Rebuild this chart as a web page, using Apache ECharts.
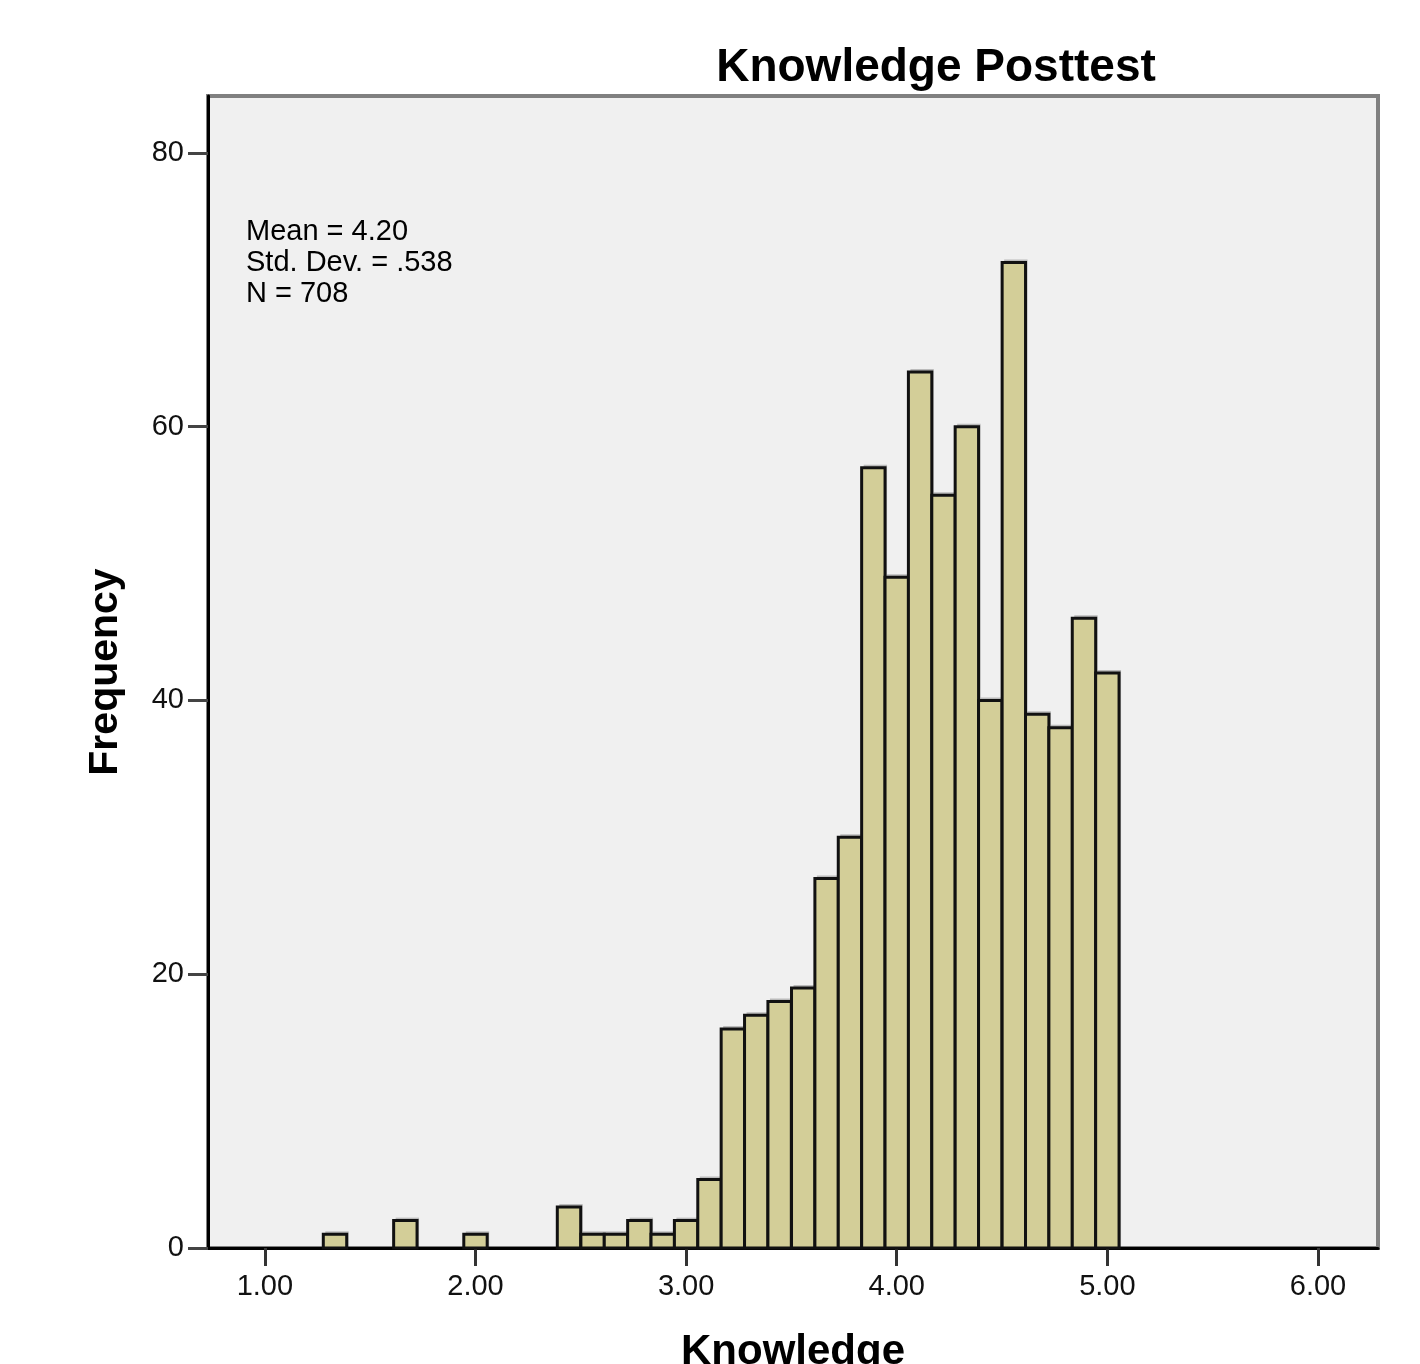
<!DOCTYPE html>
<html>
<head>
<meta charset="utf-8">
<script src="https://cdn.jsdelivr.net/npm/echarts@6/dist/echarts.min.js"></script>
<style>
html,body{margin:0;padding:0;background:#fff;overflow:hidden;}
#chart{width:1420px;height:1364px;}
</style>
</head>
<body>
<div id="chart"></div>
<script>
// Histogram bins (centers) and frequencies
const binCenters = [1.333, 1.667, 2.000, 2.444, 2.556, 2.667, 2.778, 2.889, 3.000, 3.111,
                    3.222, 3.333, 3.444, 3.556, 3.667, 3.778, 3.889, 4.000, 4.111, 4.222,
                    4.333, 4.444, 4.556, 4.667, 4.778, 4.889, 5.000];
const frequencies = [1, 2, 1, 3, 1, 1, 2, 1, 2, 5,
                     16, 17, 18, 19, 27, 30, 57, 49, 64, 55,
                     60, 40, 72, 39, 38, 46, 42];
const binWidth = 0.1111;
const xTickValues = [1, 2, 3, 4, 5, 6];
const yTickValues = [0, 20, 40, 60, 80];
const titleText = 'Knowledge Posttest';
const xName = 'Knowledge';
const yName = 'Frequency';
const statsLines = ['Mean = 4.20', 'Std. Dev. = .538', 'N = 708'];

const data = binCenters.map((c, i) => [c, frequencies[i]]);

const chart = echarts.init(document.getElementById('chart'), null, {renderer: 'canvas'});
const FONT = '"Liberation Sans", Arial, sans-serif';

chart.setOption({
  animation: false,
  backgroundColor: '#ffffff',
  title: {
    text: titleText,
    left: 931, top: 40,
    textAlign: 'center',
    textStyle: {fontFamily: FONT, fontWeight: 'bold', fontSize: 46, color: '#000'}
  },
  grid: {
    left: 208, right: 42, top: 96, bottom: 116,
    outerBoundsMode: 'none',
    containLabel: false,
    show: true,
    backgroundColor: '#f0f0f0',
    borderColor: '#808080',
    borderWidth: 4
  },
  xAxis: {
    type: 'value',
    min: 0.73, max: 6.285,
    name: xName,
    nameLocation: 'middle',
    nameGap: 83,
    nameTextStyle: {fontFamily: FONT, fontWeight: 'bold', fontSize: 42, color: '#000'},
    splitLine: {show: false},
    axisLine: {show: true, onZero: false, lineStyle: {color: '#000', width: 3}},
    axisTick: {show: true, customValues: xTickValues, length: 18, lineStyle: {color: '#333', width: 3}},
    axisLabel: {
      customValues: xTickValues,
      margin: 24,
      fontFamily: FONT, fontSize: 29, color: '#111',
      formatter: v => v.toFixed(2)
    }
  },
  yAxis: {
    type: 'value',
    min: 0, max: 84.16,
    name: yName,
    nameLocation: 'middle',
    nameGap: 82,
    nameTextStyle: {fontFamily: FONT, fontWeight: 'bold', fontSize: 41, color: '#000'},
    splitLine: {show: false},
    axisLine: {show: true, onZero: false, lineStyle: {color: '#000', width: 3}},
    axisTick: {show: true, customValues: yTickValues, length: 20, lineStyle: {color: '#444', width: 3}},
    axisLabel: {
      customValues: yTickValues,
      margin: 24,
      fontFamily: FONT, fontSize: 29, color: '#111'
    }
  },
  graphic: [{
    type: 'text',
    left: 246, top: 216,
    style: {
      text: statsLines.join('\n'),
      fontFamily: FONT, fontSize: 29, lineHeight: 31, fill: '#000'
    }
  }],
  series: [{
    type: 'custom',
    data: data,
    encode: {x: 0, y: 1},
    renderItem: function (params, api) {
      const c = api.value(0), f = api.value(1);
      const p1 = api.coord([c - binWidth / 2, f]);
      const p2 = api.coord([c + binWidth / 2, 0]);
      return {
        type: 'group',
        children: [{
          type: 'rect',
          shape: {x: p1[0] + 2, y: p1[1] - 3, width: p2[0] - p1[0], height: p2[1] - p1[1] + 3},
          style: {fill: 'rgba(0,0,0,0.22)'}
        }, {
          type: 'rect',
          shape: {x: p1[0], y: p1[1], width: p2[0] - p1[0], height: p2[1] - p1[1]},
          style: {fill: '#d3ce98', stroke: '#111', lineWidth: 3}
        }]
      };
    }
  }]
});
</script>
</body>
</html>
